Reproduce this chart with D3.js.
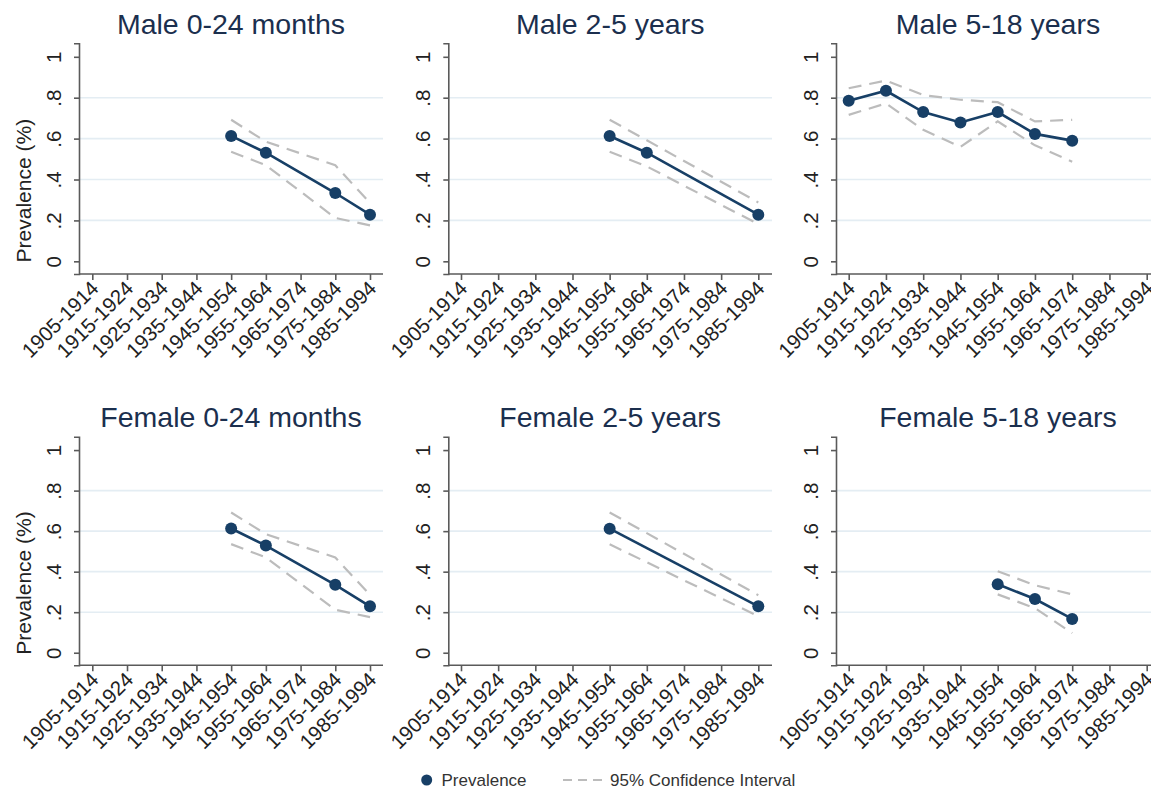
<!DOCTYPE html>
<html>
<head>
<meta charset="utf-8">
<script src="https://cdn.jsdelivr.net/npm/d3@7"></script>
<style>
  html, body { margin: 0; padding: 0; background: #ffffff; }
  svg { display: block; font-family: "Liberation Sans", Arial, Helvetica, sans-serif; }
</style>
</head>
<body>
<svg id="chart" width="1151" height="790"></svg>
<script>
// Birth cohorts on the x axis
const cohorts = ["1905-1914", "1915-1924", "1925-1934", "1935-1944", "1945-1954",
                 "1955-1964", "1965-1974", "1975-1984", "1985-1994"];
const yTicks = [0, 0.2, 0.4, 0.6, 0.8, 1];
const gridValues = [0.2, 0.4, 0.6, 0.8];

const panelTitles = ["Male 0-24 months", "Male 2-5 years", "Male 5-18 years",
                     "Female 0-24 months", "Female 2-5 years", "Female 5-18 years"];

// Prevalence and 95% CI bounds per cohort (null = no estimate)
const prevMale024 = [null, null, null, null, 0.613, 0.531, null, 0.334, 0.228];
const hiMale024   = [null, null, null, null, 0.692, 0.585, null, 0.470, 0.285];
const loMale024   = [null, null, null, null, 0.536, 0.470, null, 0.212, 0.176];

const prevMale25 = [null, null, null, null, 0.613, 0.531, null, null, 0.228];
const hiMale25   = [null, null, null, null, 0.692, 0.592, null, null, 0.288];
const loMale25   = [null, null, null, null, 0.536, 0.464, null, null, 0.182];

const prevMale518 = [0.785, 0.834, 0.730, 0.679, 0.730, 0.623, 0.590, null, null];
const hiMale518   = [0.846, 0.884, 0.813, 0.790, 0.778, 0.684, 0.692, null, null];
const loMale518   = [0.716, 0.772, 0.643, 0.560, 0.684, 0.567, 0.487, null, null];

const prevFemale024 = [null, null, null, null, 0.613, 0.529, null, 0.335, 0.229];
const hiFemale024   = [null, null, null, null, 0.692, 0.585, null, 0.470, 0.285];
const loFemale024   = [null, null, null, null, 0.536, 0.470, null, 0.212, 0.176];

const prevFemale25 = [null, null, null, null, 0.612, null, null, null, 0.229];
const hiFemale25   = [null, null, null, null, 0.692, null, null, null, 0.284];
const loFemale25   = [null, null, null, null, 0.535, null, null, null, 0.180];

const prevFemale518 = [null, null, null, null, 0.338, 0.265, 0.167, null, null];
const hiFemale518   = [null, null, null, null, 0.402, 0.333, 0.288, null, null];
const loFemale518   = [null, null, null, null, 0.288, 0.220, 0.097, null, null];

const prevSeries = [prevMale024, prevMale25, prevMale518, prevFemale024, prevFemale25, prevFemale518];
const hiSeries   = [hiMale024, hiMale25, hiMale518, hiFemale024, hiFemale25, hiFemale518];
const loSeries   = [loMale024, loMale25, loMale518, loFemale024, loFemale25, loFemale518];

// Geometry of the 3 x 2 grid of panels
const cols = [
  { axis: 79,    first: 92.3,  last: 370,    end: 383 },
  { axis: 448.3, first: 461,   last: 758.3,  end: 772 },
  { axis: 836,   first: 848.7, last: 1146.7, end: 1160 }
];
const rows = [
  { bottom: 274,   top: 43.3,  title: 34.3 },
  { bottom: 665.3, top: 436.7, title: 426.5 }
];

const navy = "#173f66";
const ciGray = "#bcbcbc";
const axisGray = "#5a5a5a";
const gridColor = "#e4edf3";
const textColor = "#222222";

const svg = d3.select("#chart");

const fmt = v => v === 0 ? "0" : v === 1 ? "1" : d3.format(".1f")(v).replace(/^0/, "");

panelTitles.forEach((title, i) => {
  const c = cols[i % 3];
  const r = rows[Math.floor(i / 3)];

  const x = d3.scalePoint().domain(cohorts).range([c.first, c.last]);
  const y = d3.scaleLinear().domain([-0.062, 1.066]).range([r.bottom, r.top]);

  const g = svg.append("g");

  // horizontal grid lines
  g.selectAll("line.grid").data(gridValues).join("line")
    .attr("class", "grid")
    .attr("x1", c.axis + 1).attr("x2", c.end)
    .attr("y1", d => y(d)).attr("y2", d => y(d))
    .attr("stroke", gridColor).attr("stroke-width", 1.6);

  // y axis
  const yAxis = g.append("g")
    .attr("transform", `translate(${c.axis},0)`)
    .call(d3.axisLeft(y).tickValues(yTicks).tickFormat(fmt).tickSizeOuter(0).tickSize(5).tickPadding(0));
  yAxis.select(".domain").attr("stroke", axisGray).attr("stroke-width", 1.6);
  yAxis.selectAll(".tick line").attr("stroke", axisGray).attr("stroke-width", 1.6);
  yAxis.selectAll(".tick text")
    .attr("x", null).attr("dy", null)
    .attr("text-anchor", "middle")
    .attr("transform", "translate(-18.5,0) rotate(-90)")
    .attr("fill", textColor)
    .style("font-size", "20.5px");

  // x axis
  g.append("line")
    .attr("x1", c.axis).attr("x2", c.end)
    .attr("y1", r.bottom).attr("y2", r.bottom)
    .attr("stroke", axisGray).attr("stroke-width", 1.6);
  const xAxis = g.append("g")
    .attr("transform", `translate(0,${r.bottom})`)
    .call(d3.axisBottom(x).tickSizeOuter(0).tickSize(6));
  xAxis.select(".domain").remove();
  xAxis.selectAll(".tick line").attr("stroke", axisGray).attr("stroke-width", 1.6);
  xAxis.selectAll(".tick text")
    .attr("y", null).attr("dy", "0.35em")
    .attr("text-anchor", "end")
    .attr("transform", "translate(2,10.5) rotate(-45)")
    .attr("fill", textColor)
    .style("font-size", "20.5px");

  // panel title
  g.append("text")
    .attr("x", (c.axis + c.end) / 2).attr("y", r.title)
    .attr("text-anchor", "middle")
    .attr("fill", "#1b2f4e")
    .style("font-size", "28.5px")
    .text(title);

  // y axis title on the left column
  if (i % 3 === 0) {
    g.append("text")
      .attr("transform", `translate(30.5,${(r.top + r.bottom) / 2 + 32}) rotate(-90)`)
      .attr("text-anchor", "middle")
      .attr("fill", textColor)
      .style("font-size", "21px")
      .text("Prevalence (%)");
  }

  const pts = arr => cohorts.map((k, j) => ({ k, v: arr[j] })).filter(d => d.v != null);
  const line = d3.line().x(d => x(d.k)).y(d => y(d.v));

  // confidence bounds
  [hiSeries[i], loSeries[i]].forEach(arr => {
    g.append("path")
      .datum(pts(arr))
      .attr("d", line)
      .attr("fill", "none")
      .attr("stroke", ciGray)
      .attr("stroke-width", 2.2)
      .attr("stroke-dasharray", "13,8");
  });

  // prevalence line and markers
  const prev = pts(prevSeries[i]);
  g.append("path")
    .datum(prev)
    .attr("d", line)
    .attr("fill", "none")
    .attr("stroke", navy)
    .attr("stroke-width", 2.6);
  g.selectAll("circle.pt").data(prev).join("circle")
    .attr("class", "pt")
    .attr("cx", d => x(d.k)).attr("cy", d => y(d.v))
    .attr("r", 6)
    .attr("fill", navy);
});

// legend
const legend = svg.append("g").attr("transform", "translate(0,780)");
legend.append("circle").attr("cx", 426.7).attr("cy", 0).attr("r", 5.5).attr("fill", navy);
legend.append("text").attr("x", 441.5).attr("y", 0).attr("dy", "0.35em")
  .attr("fill", "#333333").style("font-size", "17px").text("Prevalence");
legend.append("line").attr("x1", 563).attr("x2", 602).attr("y1", 0).attr("y2", 0)
  .attr("stroke", ciGray).attr("stroke-width", 2).attr("stroke-dasharray", "9,6");
legend.append("text").attr("x", 610).attr("y", 0).attr("dy", "0.35em")
  .attr("fill", "#333333").style("font-size", "17px").text("95% Confidence Interval");
</script>
</body>
</html>
